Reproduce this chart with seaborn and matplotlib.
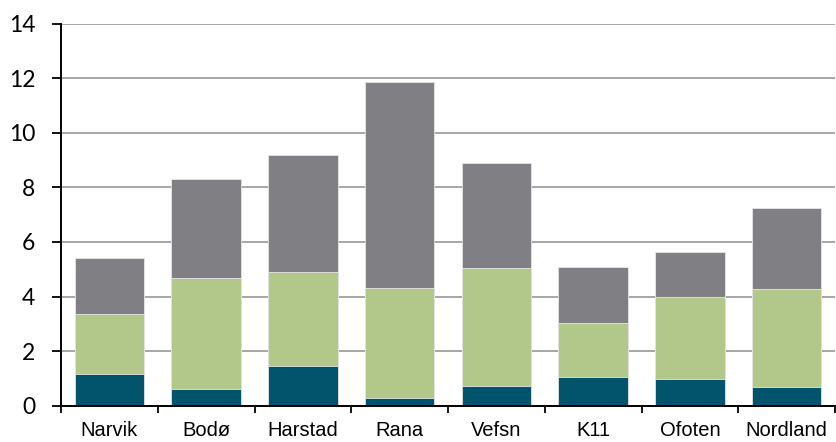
import numpy as np
import pandas as pd
import matplotlib
matplotlib.use("Agg")
import matplotlib.pyplot as plt
import seaborn as sns

categories = ["Narvik", "Bodø", "Harstad", "Rana", "Vefsn", "K11", "Ofoten", "Nordland"]
serie_1 = [1.16, 0.62, 1.47, 0.29, 0.73, 1.06, 0.98, 0.69]
serie_2 = [2.20, 4.07, 3.44, 4.04, 4.33, 1.96, 3.02, 3.59]
serie_3 = [2.06, 3.63, 4.28, 7.54, 3.85, 2.05, 1.65, 2.98]
y_ticks = [0, 2, 4, 6, 8, 10, 12, 14]

colors = ["#02536c", "#b2c88b", "#807f84"]

sns.set_theme(style="white")

s1 = np.array(serie_1)
s2 = s1 + np.array(serie_2)
s3 = s2 + np.array(serie_3)
df = pd.DataFrame({"cat": categories, "c1": s1, "c2": s2, "c3": s3})

fig = plt.figure(figsize=(8.36, 4.42), dpi=100)
ax = fig.add_axes([61 / 836, 1 - 405.7 / 442, (835 - 61) / 836, (405.7 - 23.7) / 442])

for col, c in zip(["c3", "c2", "c1"], colors[::-1]):
    sns.barplot(data=df, x="cat", y=col, color=c, width=0.716, ax=ax,
                edgecolor="#e6e6e6", linewidth=0.6, saturation=1, zorder=3)

ax.set_xlim(-0.5, len(categories) - 0.5)
ax.set_ylim(0, 14)
ax.set_yticks(y_ticks)
ax.set_yticklabels([str(v) for v in y_ticks])
for t in ax.get_yticklabels():
    t.set_fontfamily("Lato")
    t.set_fontsize(16.5)
    t.set_color("black")
ax.yaxis.grid(True, color="#8e8e8e", linewidth=1.1, zorder=0)
ax.set_axisbelow(True)
ax.set_xlabel("")
ax.set_ylabel("")

ax.set_xticks(np.arange(len(categories)))
ax.set_xticklabels(categories)
for t in ax.get_xticklabels():
    t.set_fontfamily("Liberation Sans")
    t.set_fontsize(14.5)
    t.set_color("black")
ax.tick_params(axis="x", which="major", length=0, pad=11)
ax.set_xticks(np.arange(-0.5, len(categories) + 0.5, 1), minor=True)
ax.tick_params(axis="x", which="minor", length=5, width=1.3, color="black", direction="out", bottom=True)
ax.tick_params(axis="y", length=6.5, width=1.3, color="black", direction="out", pad=12, left=True)

for s in ["top", "right"]:
    ax.spines[s].set_visible(False)
for s in ["left", "bottom"]:
    ax.spines[s].set_color("black")
    ax.spines[s].set_linewidth(1.4)
    ax.spines[s].set_zorder(5)

fig.savefig("out.png", dpi=100)
